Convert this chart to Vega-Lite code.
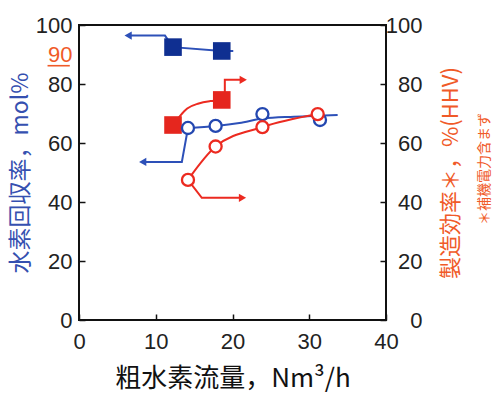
{
  "$schema": "https://vega.github.io/schema/vega-lite/v6.json",
  "width": 307,
  "height": 295,
  "autosize": {"type": "none"},
  "padding": {"left": 79, "top": 25, "right": 109, "bottom": 74},
  "background": "white",
  "config": {
    "view": {"stroke": "#111", "strokeWidth": 2},
    "axis": {
      "grid": false,
      "domain": false,
      "tickColor": "#111",
      "tickWidth": 1.5,
      "tickSize": -6,
      "labelFont": "Liberation Sans, sans-serif",
      "labelFontSize": 22,
      "labelColor": "#222"
    }
  },
  "datasets": {
    "chart": [
      {"k": "point", "m": "hybrid", "q": "recovery", "x": 12.25, "y": 92.5},
      {"k": "point", "m": "hybrid", "q": "recovery", "x": 18.6, "y": 91.2},
      {"k": "point", "m": "hybrid", "q": "efficiency", "x": 12.25, "y": 66.1},
      {"k": "point", "m": "hybrid", "q": "efficiency", "x": 18.6, "y": 74.6},
      {"k": "point", "m": "PSA", "q": "recovery", "x": 14.2, "y": 65.1},
      {"k": "point", "m": "PSA", "q": "recovery", "x": 17.8, "y": 65.8},
      {"k": "point", "m": "PSA", "q": "recovery", "x": 23.9, "y": 69.8},
      {"k": "point", "m": "PSA", "q": "recovery", "x": 31.4, "y": 67.8},
      {"k": "point", "m": "PSA", "q": "efficiency", "x": 14.2, "y": 47.5},
      {"k": "point", "m": "PSA", "q": "efficiency", "x": 17.8, "y": 58.8},
      {"k": "point", "m": "PSA", "q": "efficiency", "x": 23.9, "y": 65.4},
      {"k": "point", "m": "PSA", "q": "efficiency", "x": 31.1, "y": 69.8},

      {"k": "curve", "g": "c1", "q": "efficiency", "o": 1, "x": 12.25, "y": 66.1},
      {"k": "curve", "g": "c1", "q": "efficiency", "o": 2, "x": 13.2, "y": 69.3},
      {"k": "curve", "g": "c1", "q": "efficiency", "o": 3, "x": 14.1, "y": 71.7},
      {"k": "curve", "g": "c1", "q": "efficiency", "o": 4, "x": 15.6, "y": 73.4},
      {"k": "curve", "g": "c1", "q": "efficiency", "o": 5, "x": 17.1, "y": 74.2},
      {"k": "curve", "g": "c1", "q": "efficiency", "o": 6, "x": 18.6, "y": 74.6},

      {"k": "curve", "g": "c2", "q": "recovery", "o": 1, "x": 14.2, "y": 65.1},
      {"k": "curve", "g": "c2", "q": "recovery", "o": 2, "x": 17.8, "y": 65.8},
      {"k": "curve", "g": "c2", "q": "recovery", "o": 3, "x": 20.9, "y": 66.8},
      {"k": "curve", "g": "c2", "q": "recovery", "o": 4, "x": 24.0, "y": 68.3},
      {"k": "curve", "g": "c2", "q": "recovery", "o": 5, "x": 28.0, "y": 68.9},
      {"k": "curve", "g": "c2", "q": "recovery", "o": 6, "x": 33.7, "y": 69.5},

      {"k": "curve", "g": "c3", "q": "efficiency", "o": 1, "x": 14.2, "y": 47.5},
      {"k": "curve", "g": "c3", "q": "efficiency", "o": 2, "x": 17.8, "y": 58.8},
      {"k": "curve", "g": "c3", "q": "efficiency", "o": 3, "x": 23.9, "y": 65.4},
      {"k": "curve", "g": "c3", "q": "efficiency", "o": 4, "x": 31.1, "y": 69.8},

      {"k": "leg", "g": "l1", "q": "recovery", "o": 1, "x": 6.4, "y": 96.4},
      {"k": "leg", "g": "l1", "q": "recovery", "o": 2, "x": 11.2, "y": 96.4},
      {"k": "leg", "g": "l1", "q": "recovery", "o": 3, "x": 12.25, "y": 92.5},
      {"k": "leg", "g": "l1", "q": "recovery", "o": 4, "x": 18.6, "y": 91.2},
      {"k": "leg", "g": "l1", "q": "recovery", "o": 5, "x": 20.1, "y": 91.2},

      {"k": "leg", "g": "l2", "q": "recovery", "o": 1, "x": 14.2, "y": 65.1},
      {"k": "leg", "g": "l2", "q": "recovery", "o": 2, "x": 13.4, "y": 53.6},
      {"k": "leg", "g": "l2", "q": "recovery", "o": 3, "x": 8.3, "y": 53.6},

      {"k": "leg", "g": "l3", "q": "efficiency", "o": 1, "x": 19.0, "y": 74.6},
      {"k": "leg", "g": "l3", "q": "efficiency", "o": 2, "x": 19.0, "y": 81.4},
      {"k": "leg", "g": "l3", "q": "efficiency", "o": 3, "x": 21.4, "y": 81.4},

      {"k": "leg", "g": "l4", "q": "efficiency", "o": 1, "x": 14.2, "y": 47.5},
      {"k": "leg", "g": "l4", "q": "efficiency", "o": 2, "x": 16.0, "y": 41.4},
      {"k": "leg", "g": "l4", "q": "efficiency", "o": 3, "x": 21.3, "y": 41.4},

      {"k": "arrow", "q": "recovery", "dir": "left", "x": 6.4, "y": 96.4},
      {"k": "arrow", "q": "recovery", "dir": "left", "x": 8.3, "y": 53.6},
      {"k": "arrow", "q": "efficiency", "dir": "right", "x": 21.4, "y": 81.4},
      {"k": "arrow", "q": "efficiency", "dir": "right", "x": 21.3, "y": 41.4},

      {"k": "underline", "o": 1, "x": -4.1, "y": 86.2},
      {"k": "underline", "o": 2, "x": -1.2, "y": 86.2}
    ]
  },
  "layer": [
    {
      "data": {"name": "chart"},
      "encoding": {
        "x": {
          "field": "x",
          "type": "quantitative",
          "scale": {"domain": [0, 40], "nice": false},
          "axis": {
            "values": [0, 10, 20, 30, 40],
            "labelPadding": 17,
            "labelFlush": false,
            "title": "粗水素流量，Nm³/h",
            "titleFont": "Noto Sans CJK JP",
            "titleFontSize": 26,
            "titleFontWeight": "normal",
            "titleColor": "#111",
            "titlePadding": 13
          }
        },
        "y": {
          "field": "y",
          "type": "quantitative",
          "scale": {"domain": [0, 100], "nice": false},
          "axis": {
            "orient": "left",
            "values": [0, 20, 40, 60, 80, 90, 100],
            "labelColor": {"condition": {"test": "datum.value == 90", "value": "#f05a28"}, "value": "#222"},
            "tickColor": {"condition": {"test": "datum.value == 90", "value": "transparent"}, "value": "#111"},
            "labelPadding": 13,
            "title": "水素回収率，mol%",
            "titleColor": "#3550b0",
            "titleFont": "Noto Sans CJK JP",
            "titleFontSize": 23,
            "titleFontWeight": "normal",
            "titlePadding": 3
          }
        }
      },
      "layer": [
        {
          "transform": [{"filter": "datum.k == 'underline'"}],
          "mark": {"type": "line", "strokeWidth": 1.6, "strokeCap": "butt", "color": "#f05a28", "clip": false},
          "encoding": {"order": {"field": "o"}}
        },
        {
          "transform": [{"filter": "datum.k == 'curve'"}],
          "mark": {"type": "line", "interpolate": "monotone", "strokeWidth": 2},
          "encoding": {
            "color": {"field": "q", "type": "nominal", "scale": {"domain": ["recovery", "efficiency"], "range": ["#2d50b8", "#ec2a20"]}, "legend": null},
            "detail": {"field": "g"},
            "order": {"field": "o"}
          }
        },
        {
          "transform": [{"filter": "datum.k == 'leg'"}],
          "mark": {"type": "line", "strokeWidth": 2},
          "encoding": {
            "color": {"field": "q", "type": "nominal", "scale": {"domain": ["recovery", "efficiency"], "range": ["#2d50b8", "#ec2a20"]}, "legend": null},
            "detail": {"field": "g"},
            "order": {"field": "o"}
          }
        },
        {
          "transform": [{"filter": "datum.k == 'arrow'"}],
          "mark": {"type": "point", "filled": true, "size": 70, "opacity": 1},
          "encoding": {
            "color": {"field": "q", "type": "nominal", "scale": {"domain": ["recovery", "efficiency"], "range": ["#2d50b8", "#ec2a20"]}, "legend": null},
            "shape": {"field": "dir", "type": "nominal", "scale": {"domain": ["left", "right"], "range": ["triangle-left", "triangle-right"]}, "legend": null}
          }
        },
        {
          "transform": [{"filter": "datum.k == 'point' && datum.m == 'hybrid' && datum.q == 'recovery'"}],
          "mark": {"type": "point", "shape": "square", "filled": true, "size": 310, "color": "#0f2f91", "opacity": 1}
        },
        {
          "transform": [{"filter": "datum.k == 'point' && datum.m == 'hybrid' && datum.q == 'efficiency'"}],
          "mark": {"type": "point", "shape": "square", "filled": true, "size": 310, "color": "#e5261e", "opacity": 1}
        },
        {
          "transform": [{"filter": "datum.k == 'point' && datum.m == 'PSA' && datum.q == 'recovery'"}],
          "mark": {"type": "point", "shape": "circle", "filled": false, "fill": "white", "fillOpacity": 1, "stroke": "#2347b0", "strokeWidth": 2.3, "size": 145, "opacity": 1}
        },
        {
          "transform": [{"filter": "datum.k == 'point' && datum.m == 'PSA' && datum.q == 'efficiency'"}],
          "mark": {"type": "point", "shape": "circle", "filled": false, "fill": "white", "fillOpacity": 1, "stroke": "#ec2a20", "strokeWidth": 2.3, "size": 145, "opacity": 1}
        },
        {
          "data": {"values": [{"m": "hybrid"}]},
          "mark": {"type": "point", "shape": "square", "filled": true, "size": 120, "color": "#111", "opacity": 1},
          "encoding": {"x": {"datum": 5.5}, "y": {"datum": 23.1}}
        },
        {
          "data": {"values": [{"m": "PSA"}]},
          "mark": {"type": "point", "shape": "circle", "filled": false, "fill": "white", "stroke": "#111", "strokeWidth": 2.5, "size": 70, "opacity": 1},
          "encoding": {"x": {"datum": 5.5}, "y": {"datum": 15.3}}
        },
        {
          "data": {"values": [{"label": "ハイブリッド分離膜"}]},
          "mark": {"type": "text", "align": "left", "baseline": "middle", "font": "Noto Sans CJK JP", "fontSize": 17, "fontWeight": "bold", "color": "#333"},
          "encoding": {"x": {"datum": 7.95}, "y": {"datum": 23.1}, "text": {"field": "label"}}
        },
        {
          "data": {"values": [{"label": "PSA"}]},
          "mark": {"type": "text", "align": "left", "baseline": "middle", "font": "Liberation Sans", "fontSize": 17, "fontWeight": "bold", "color": "#333"},
          "encoding": {"x": {"datum": 7.95}, "y": {"datum": 15.3}, "text": {"field": "label"}}
        }
      ]
    },
    {
      "data": {"values": [{"note": "＊補機電力含まず"}]},
      "mark": {"type": "text", "angle": 270, "fontSize": 14, "font": "Noto Sans CJK JP", "color": "#f05a28", "align": "center", "baseline": "middle", "clip": false},
      "encoding": {
        "x": {"datum": 52.9, "type": "quantitative"},
        "y": {
          "datum": 51.2,
          "type": "quantitative",
          "scale": {"domain": [0, 100], "nice": false},
          "axis": {
            "orient": "right",
            "values": [0, 20, 40, 60, 80, 100],
            "labelAlign": "right",
            "labelPadding": 42,
            "title": "製造効率＊，%(HHV)",
            "titleColor": "#f05a28",
            "titleFont": "Noto Sans CJK JP",
            "titleFontSize": 22,
            "titleFontWeight": "normal",
            "titleAngle": 270,
            "titleBaseline": "top",
            "titlePadding": 18
          }
        },
        "text": {"field": "note"}
      }
    }
  ],
  "resolve": {"scale": {"y": "independent"}}
}
